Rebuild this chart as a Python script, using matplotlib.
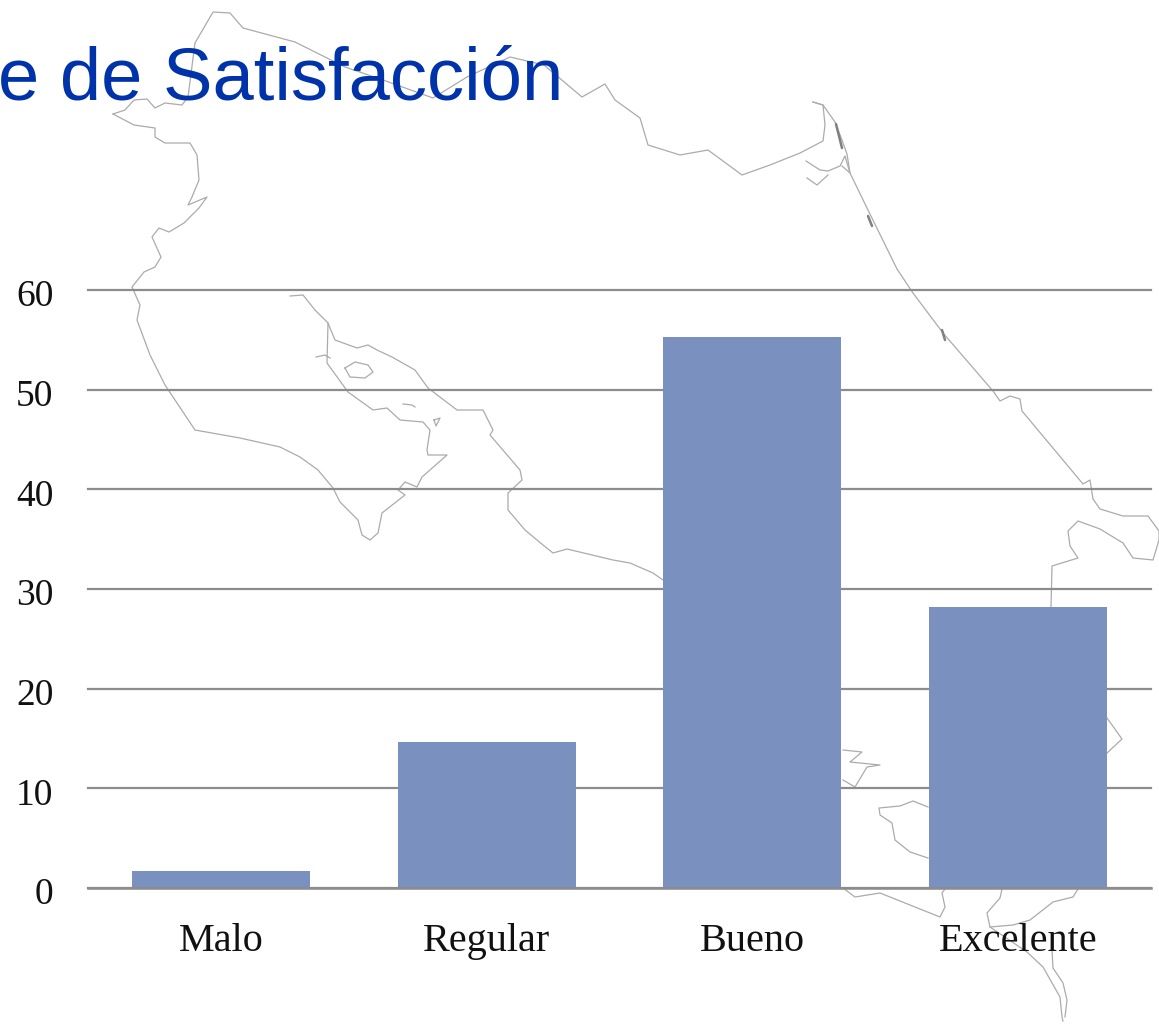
import matplotlib
matplotlib.use("Agg")
import matplotlib.pyplot as plt
from matplotlib.transforms import ScaledTranslation

W, H = 1159, 1024
categories = ["Malo", "Regular", "Bueno", "Excelente"]
values = [1.7, 14.6, 55.3, 28.2]
yticks = [0, 10, 20, 30, 40, 50, 60]
title_text = "e de Satisfacción"

BAR = "#7A90BF"
GRID = "#8C8C8C"
MAP = "#ABABAB"
BLUE = "#0033AA"

# Background map outline, in image pixels
map_paths = [
    [(113,114),(125,110),(134,100),(147,99),(155,108),(165,103),(182,105),(188,97),(195,43),(213,12),(230,13),
     (243,28),(295,42),(345,67),(383,80),(433,98),(467,77),(510,57),(544,65),(582,97),(605,84),(615,100),(640,118),
     (648,145),(680,155),(708,150),(742,175),(770,165),(800,153),(823,141),(825,125),(823,105),(813,102)],
    [(813,102),(823,105),(835,122),(842,140),(847,154),(850,173),(867,208),(897,269),(913,293),(943,333),(993,391),
     (1000,401),(1010,396),(1020,399),(1022,411),(1083,484),(1090,480),(1093,499),(1100,509),(1123,516),(1148,516),
     (1159,531),(1159,540),(1153,560),(1133,558),(1123,543),(1100,529),(1078,521),(1068,531),(1070,546),(1078,558),
     (1052,566),(1051,607)],
    [(806,161),(820,170),(828,171),(840,166),(845,156),(850,173),(842,166)],
    [(807,178),(817,185),(828,175)],
    [(113,114),(134,125),(155,128),(155,137),(165,143),(190,143),(197,155),(199,180),(192,197),(188,205),(207,197),
     (199,208),(184,223),(169,232),(159,228),(152,237),(161,257),(155,267),(144,272),(132,287),(140,305),(137,320),
     (150,355),(165,385),(195,430),(240,438),(280,447),(300,457),(318,470),(333,488),(340,502),(358,520),(362,535),
     (370,540),(378,533),(382,513),(405,495),(398,490),(405,482),(417,487),(422,477),(447,455),(428,455),(427,450),
     (430,430),(423,422),(400,420),(387,408),(373,410),(348,392),(327,363),(328,323),(315,310),(303,295),(290,296)],
    [(328,323),(335,340),(357,348),(368,345),(377,350),(392,357),(415,370),(428,388),(457,410),(483,410),(493,430),
     (490,435),(520,470),(522,480),(508,493),(508,510),(525,530),(543,545),(553,553),(567,549),(613,560),(630,563),
     (653,573),(663,580)],
    [(345,368),(355,362),(368,365),(373,372),(365,378),(350,377),(345,368)],
    [(403,404),(412,405),(415,407)],
    [(316,357),(325,355),(330,358)],
    [(434,420),(440,418),(436,426),(434,420)],
    [(843,750),(862,752),(850,762),(880,765),(867,767),(855,787),(843,780)],
    [(928,807),(913,801),(900,806),(879,808),(880,815),(892,823),(895,840),(910,852),(928,858)],
    [(843,888),(855,897),(880,893),(940,917),(945,907),(942,893),(945,889)],
    [(1002,889),(1000,898),(987,913),(990,927),(1027,952),(1043,967),(1060,997),(1062,1017),(1063,1021)],
    [(1078,889),(1073,897),(1053,902),(1030,920),(1013,925),(990,927)],
    [(1052,950),(1053,968),(1063,983),(1067,1000),(1065,1017)],
    [(1107,718),(1122,739),(1107,753)],
]
map_blobs = [
    [(836,124),(842,148)],
    [(868,216),(872,226)],
    [(942,330),(945,340)],
]

fig = plt.figure(figsize=(W / 100, H / 100), dpi=100, facecolor="white")

bg = fig.add_axes([0, 0, 1, 1], zorder=0)
bg.set_xlim(0, W)
bg.set_ylim(H, 0)
bg.axis("off")
for path in map_paths:
    xs, ys = zip(*path)
    bg.plot(xs, ys, color=MAP, lw=0.9, solid_joinstyle="round")
for path in map_blobs:
    xs, ys = zip(*path)
    bg.plot(xs, ys, color="#808080", lw=1.8, solid_capstyle="round")

left, right, y0, y60 = 88, 1151, 888, 290
ax = fig.add_axes([left / W, 1 - y0 / H, (right - left) / W, (y0 - y60) / H], zorder=1)
ax.patch.set_alpha(0)
ax.bar(range(len(categories)), values, width=0.67, color=BAR, zorder=3)
ax.set_xlim(-0.5, len(categories) - 0.5)
ax.set_ylim(0, 60)
ax.set_yticks(yticks)
ax.set_xticks(range(len(categories)))
ax.set_xticklabels(categories)
ax.grid(axis="y", color=GRID, lw=1.6, zorder=1)
for gl in ax.get_ygridlines():
    gl.set_clip_on(False)
ax.set_axisbelow(True)
for s in ["top", "right", "left"]:
    ax.spines[s].set_visible(False)
ax.spines["bottom"].set_color(GRID)
ax.spines["bottom"].set_linewidth(1.8)
ax.spines["bottom"].set_zorder(4)
ax.tick_params(axis="both", length=0)
ax.tick_params(axis="x", pad=25)
ax.tick_params(axis="y", pad=25)
for lab in ax.get_xticklabels():
    lab.set_fontfamily("Liberation Serif")
    lab.set_fontsize(29)
    lab.set_color("#111111")
shift = ScaledTranslation(0, -3 / 100, fig.dpi_scale_trans)
for lab in ax.get_yticklabels():
    lab.set_fontfamily("Liberation Serif")
    lab.set_fontsize(27)
    lab.set_color("#111111")
    lab.set_transform(lab.get_transform() + shift)

fig.text(563 / W, 1 - 100 / H, title_text, ha="right", va="baseline",
         fontsize=53.5, family="Liberation Sans", color=BLUE, zorder=5)

fig.savefig("out.png", dpi=100)
